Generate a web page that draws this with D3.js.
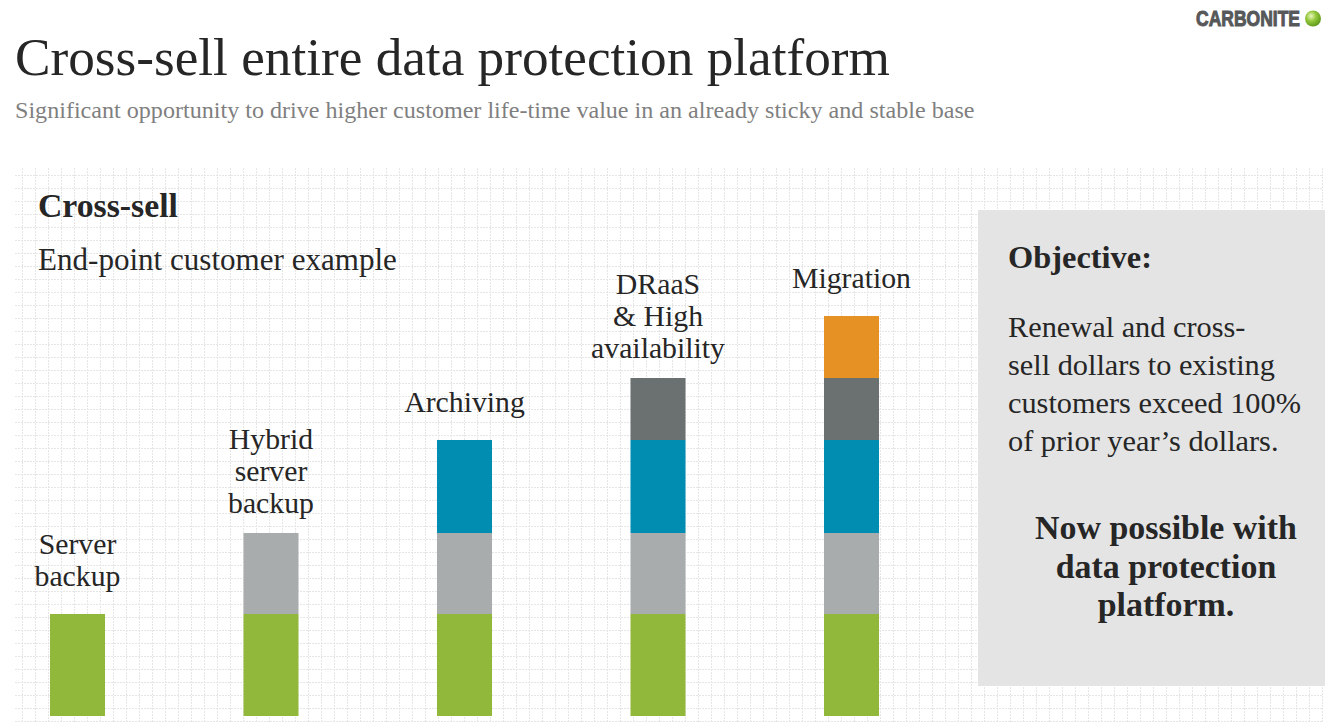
<!DOCTYPE html>
<html>
<head>
<meta charset="utf-8">
<script src="https://cdn.jsdelivr.net/npm/d3@7"></script>
<style>
  body { margin: 0; background: #fff; }
  svg { display: block; }
</style>
</head>
<body>
<div class="chart"></div>
<script>
var width = 1333;
var height = 723;

// data
var categories = ["Server backup", "Hybrid server backup", "Archiving", "DRaaS & High availability", "Migration"];
var labelLines = [["Server", "backup"], ["Hybrid", "server", "backup"], ["Archiving"], ["DRaaS", "& High", "availability"], ["Migration"]];
var layers = ["server", "hybrid", "archiving", "draas", "migration"];
var serverVals    = [102, 102, 102, 102, 102];
var hybridVals    = [0, 81, 81, 81, 81];
var archivingVals = [0, 0, 93, 93, 93];
var draasVals     = [0, 0, 0, 62, 62];
var migrationVals = [0, 0, 0, 0, 62];
var layerColors = ["#92b83b", "#a9acad", "#008db1", "#6b7170", "#e59124"];

var objectiveLines = ["Renewal and cross-", "sell dollars to existing", "customers exceed 100%", "of prior year\u2019s dollars."];
var possibleLines = ["Now possible with", "data protection", "platform."];

var serif = "'Liberation Serif', 'DejaVu Serif', serif";
var textColor = "#262626";

var svg = d3.select('.chart').append('svg')
	.attr('width', width)
	.attr('height', height);

// measure helper: font size giving a target width
function fitSize(str, weight, target, base) {
	var t = svg.append('text').attr('font-family', serif).attr('font-weight', weight)
		.attr('font-size', base).text(str);
	var w = t.node().getComputedTextLength();
	t.remove();
	return base * target / w;
}

// dotted grid background
var grid = svg.append('g').attr('stroke', '#e6e6e6').attr('stroke-dasharray', '2,1').attr('stroke-width', 1);
grid.selectAll('line.h').data(d3.range(175, 722, 13)).enter().append('line')
	.attr('class', 'h').attr('x1', 15).attr('x2', 1323)
	.attr('y1', d => d + 0.5).attr('y2', d => d + 0.5);
grid.selectAll('line.v').data(d3.range(21.7, 1324, 13)).enter().append('line')
	.attr('class', 'v').attr('y1', 168).attr('y2', 723)
	.attr('x1', d => Math.round(d) + 0.5).attr('x2', d => Math.round(d) + 0.5);

// title
var titleSize = fitSize("Cross-sell entire data protection platform", 400, 875, 48);
svg.append('text').attr('x', 15).attr('y', 75)
	.attr('font-family', serif).attr('font-size', titleSize).attr('fill', textColor)
	.text("Cross-sell entire data protection platform");

var subSize = fitSize("Significant opportunity to drive higher customer life-time value in an already sticky and stable base", 400, 960, 20);
svg.append('text').attr('x', 15).attr('y', 118)
	.attr('font-family', serif).attr('font-size', subSize).attr('fill', '#7f7f7f')
	.text("Significant opportunity to drive higher customer life-time value in an already sticky and stable base");

// logo
svg.append('text').attr('x', 1196).attr('y', 26)
	.attr('font-family', "'Liberation Sans', Arial, sans-serif").attr('font-weight', 700)
	.attr('font-size', 21.5).attr('fill', '#56585a')
	.attr('stroke', '#56585a').attr('stroke-width', 1)
	.attr('textLength', 104).attr('lengthAdjust', 'spacingAndGlyphs')
	.text("CARBONITE");
var grad = svg.append('defs').append('radialGradient').attr('id', 'ball')
	.attr('cx', '38%').attr('cy', '35%').attr('r', '70%');
grad.append('stop').attr('offset', '0%').attr('stop-color', '#eaf7c0');
grad.append('stop').attr('offset', '45%').attr('stop-color', '#94c83c');
grad.append('stop').attr('offset', '100%').attr('stop-color', '#5a9618');
svg.append('circle').attr('cx', 1313).attr('cy', 18.5).attr('r', 8).attr('fill', 'url(#ball)');

// section heading
svg.append('text').attr('x', 38).attr('y', 217)
	.attr('font-family', serif).attr('font-weight', 700).attr('fill', textColor)
	.attr('font-size', fitSize("Cross-sell", 700, 140, 28))
	.text("Cross-sell");
svg.append('text').attr('x', 38).attr('y', 270)
	.attr('font-family', serif).attr('fill', textColor)
	.attr('font-size', fitSize("End-point customer example", 400, 359, 26))
	.text("End-point customer example");

// stacked bars
var table = categories.map(function(c, i) {
	return { cat: c, server: serverVals[i], hybrid: hybridVals[i], archiving: archivingVals[i],
		draas: draasVals[i], migration: migrationVals[i] };
});
var stacked = d3.stack().keys(layers)(table);

var x = d3.scalePoint().domain(categories).range([77.5, 851.5]);
var y = d3.scaleLinear().domain([0, 400]).range([716, 316]);
var barWidth = 55;

svg.append('g').selectAll('g').data(stacked).enter().append('g')
	.attr('fill', (d, i) => layerColors[i])
	.selectAll('rect').data(d => d.filter(s => s[1] > s[0])).enter().append('rect')
	.attr('x', d => x(d.data.cat) - barWidth / 2)
	.attr('width', barWidth)
	.attr('y', d => y(d[1]))
	.attr('height', d => y(d[0]) - y(d[1]));

// bar labels
var labelSize = fitSize("Migration", 400, 119, 28);
var lineGap = 32;
var labels = svg.append('g').selectAll('text').data(table).enter().append('text')
	.attr('font-family', serif).attr('font-size', labelSize).attr('fill', textColor)
	.attr('text-anchor', 'middle');
labels.each(function(d, i) {
	var lines = labelLines[i];
	var total = d.server + d.hybrid + d.archiving + d.draas + d.migration;
	var bottom = y(total) - (lines.length === 3 ? 20 : 28);
	d3.select(this).selectAll('tspan').data(lines).enter().append('tspan')
		.attr('x', x(d.cat))
		.attr('y', (l, j) => bottom - (lines.length - 1 - j) * lineGap)
		.text(l => l);
});

// objective box
svg.append('rect').attr('x', 978).attr('y', 210).attr('width', 347).attr('height', 476)
	.attr('fill', '#e4e4e4');
svg.append('text').attr('x', 1008).attr('y', 268)
	.attr('font-family', serif).attr('font-weight', 700).attr('fill', textColor)
	.attr('font-size', fitSize("Objective:", 700, 144, 28))
	.text("Objective:");
var objSize = fitSize("customers exceed 100%", 400, 293, 26);
svg.append('g').selectAll('text').data(objectiveLines).enter().append('text')
	.attr('x', 1008).attr('y', (d, i) => 337 + i * 38)
	.attr('font-family', serif).attr('font-size', objSize).attr('fill', textColor)
	.text(d => d);
var nowSize = fitSize("Now possible with", 700, 262, 28);
svg.append('g').selectAll('text').data(possibleLines).enter().append('text')
	.attr('x', 1166).attr('y', (d, i) => 539 + i * 38.5)
	.attr('text-anchor', 'middle')
	.attr('font-family', serif).attr('font-weight', 700).attr('font-size', nowSize).attr('fill', textColor)
	.text(d => d);
</script>
</body>
</html>
